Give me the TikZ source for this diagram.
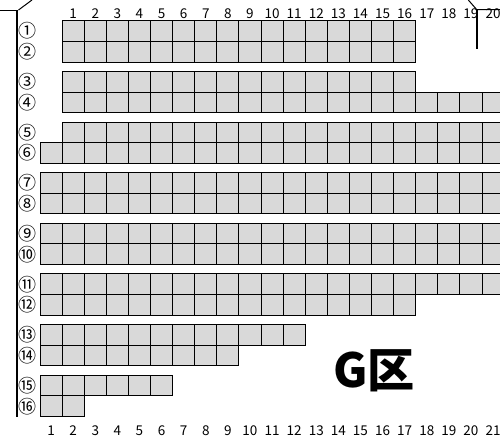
\documentclass[tikz,border=0pt]{standalone}
\usepackage{fontspec}
\setmainfont{Noto Sans CJK JP}
\usetikzlibrary{calc}

\begin{document}
\begin{tikzpicture}[x=1pt,y=-1pt,
    seat/.style={draw=black, fill=black!15, line width=1pt},
    wall/.style={draw=black, line width=2pt},
    edge/.style={draw=black, line width=1pt},
    rowlabel/.style={inner sep=0pt, font=\fontsize{18}{18}\selectfont},
    colnum/.style={inner sep=0pt, font=\fontsize{13.5}{13.5}\selectfont}]
            \pgfmathsetmacro{\cw}{22.1} % seat width
            \pgfmathsetmacro{\ch}{20.65} % seat height
            \pgfmathsetmacro{\xo}{40} % left edge of column 1 (bottom numbering)
            \pgfmathsetmacro{\yo}{20.7} % top of row 1
            \pgfmathsetmacro{\pitch}{50.65} % distance between row pairs

            \clip (0,0) rectangle (500,440);

            % row / first seat / last seat / label
            \foreach \r/\a/\b/\lab in {1/2/17/①, 2/2/17/②, 3/2/17/③, 4/2/21/④,
                                       5/2/21/⑤, 6/1/21/⑥, 7/1/21/⑦, 8/1/21/⑧,
                                       9/1/21/⑨, 10/1/21/⑩, 11/1/21/⑪, 12/1/17/⑫,
                                       13/1/12/⑬, 14/1/9/⑭, 15/1/6/⑮, 16/1/2/⑯}{
                \pgfmathsetmacro{\rowy}{\yo + \pitch*floor((\r-1)/2) + \ch*mod(\r-1,2)}
                \foreach \c in {\a,...,\b}{
                    \draw[seat] ({\xo+\cw*(\c-1)},\rowy) rectangle ++(\cw,\ch);
                }
                \node[rowlabel] (row\r) at (27.5, \rowy+\ch/2) {\lab};
            }

            % column numbers
            \foreach \k in {1,...,20}{
                \node[colnum] (top\k) at ({\xo+\cw*(\k+0.5)}, 13.5) {\k};
            }
            \foreach \k in {1,...,21}{
                \node[colnum] (bot\k) at ({\xo+\cw*(\k-0.5)}, 431) {\k};
            }

            % walls
            \coordinate (LT) at (17.3, 10);
            \coordinate (LB) at (17.3, 416.7);
            \coordinate (RT) at (476.7, 9.6);
            \coordinate (RB) at (476.7, 49.3);

            \draw[wall] (LT) -- (LB);
            \draw[edge] (0, 10) -- (LT);
            \draw[edge] ($(LT) + (1.2, 0)$) -- (32, 0);
            \draw[edge] (468.3, 0) -- (RT) -- (500, 9.6);
            \draw[wall] (RT) -- (RB);

            \node[inner sep=0pt, font=\bfseries\fontsize{47}{47}\selectfont] (zone) at (374, 371) {G区};
        \end{tikzpicture}
\end{document}
